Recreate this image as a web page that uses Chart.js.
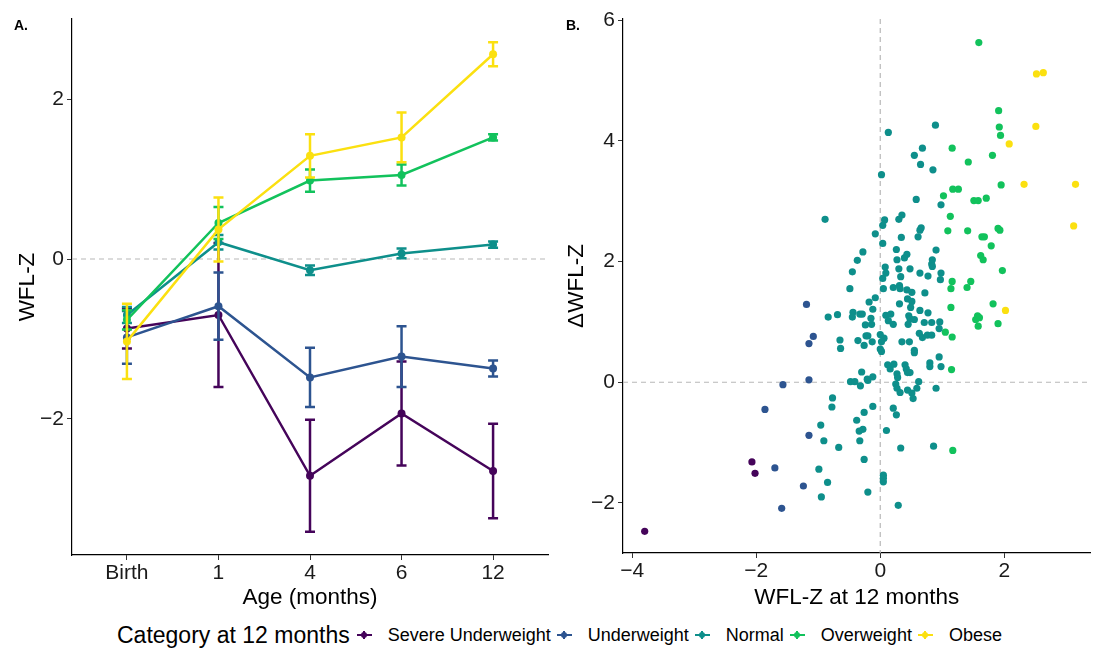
<!DOCTYPE html>
<html>
<head>
<meta charset="utf-8">
<script src="https://cdn.jsdelivr.net/npm/chart.js@4.4.1/dist/chart.umd.min.js"></script>
<style>
  body { margin: 0; background: #fff; font-family: "Liberation Sans", Arial, sans-serif; }
  #wrap { position: relative; width: 1094px; height: 648px; overflow: hidden; }
  #boxB { position: absolute; left: 560px; top: 0; }
  .tag { position: absolute; top: 17px; font-weight: bold; font-size: 14px; }
  #legend { position: absolute; top: 622px; left: 117px; height: 26px; display: flex; align-items: center; white-space: nowrap; color: #000; }
  #legend .ttl { font-size: 23px; margin-right: 7px; }
  #legend .lab { font-size: 18px; margin-right: 6px; }
  .key { position: relative; display: inline-block; width: 15px; height: 14px; margin-right: 16px; }
  .key::before { content: ''; position: absolute; left: 0; right: 0; top: 6px; height: 2px; background: currentColor; }
  .key::after { content: ''; position: absolute; left: 6.5px; top: 3px; bottom: 3px; width: 2px; background: currentColor; }
  .key i { position: absolute; left: 4.5px; top: 4px; width: 6px; height: 6px; border-radius: 50%; background: currentColor; }
</style>
</head>
<body>
<div id="wrap">
  <canvas id="chartA" width="560" height="612"></canvas>
  <div id="boxB"><canvas id="chartB" width="534" height="612"></canvas></div>
  <div class="tag" style="left:14px">A.</div>
  <div class="tag" style="left:566px">B.</div>
  <div id="legend"></div>
</div>
<script>
// categories and colours
const categories = ['Severe Underweight', 'Underweight', 'Normal', 'Overweight', 'Obese'];
const colors = ['#45045a', '#2d5490', '#0e8f8b', '#12c25c', '#fbe010'];

// panel A: mean WFL-Z by age, with error bar half-widths
const ages = ['Birth', '1', '4', '6', '12'];
const meanSevere = [-0.87, -0.70, -2.71, -1.93, -2.65];
const errSevere  = [0.25, 0.90, 0.70, 0.65, 0.59];
const meanUnder  = [-0.98, -0.59, -1.48, -1.22, -1.37];
const errUnder   = [0.33, 0.42, 0.37, 0.38, 0.10];
const meanNormal = [-0.70, 0.21, -0.14, 0.07, 0.18];
const errNormal  = [0.10, 0.09, 0.06, 0.06, 0.04];
const meanOver   = [-0.76, 0.45, 0.98, 1.05, 1.52];
const errOver    = [0.12, 0.20, 0.14, 0.13, 0.04];
const meanObese  = [-1.03, 0.37, 1.29, 1.52, 2.56];
const errObese   = [0.47, 0.40, 0.27, 0.31, 0.15];
const yTicksA = [-2, 0, 2];

// panel B: [WFL-Z at 12 months, change in WFL-Z]
const ptsSevere = [[-3.80, -2.47], [-2.07, -1.32], [-2.02, -1.51]];
const ptsUnder = [[-1.57, -0.04], [-1.15, 0.04], [-1.86, -0.45], [-1.15, -0.88], [-1.70, -1.42],
  [-1.24, -1.72], [-1.59, -2.09], [-1.19, 1.29], [-1.08, 0.76], [-1.15, 0.64]];
const ptsNormal = [
  [-0.77, -0.26], [-0.78, -0.41], [-0.26, -0.50], [-0.96, -0.71], [-0.38, -0.63], [-0.28, -0.78],
  [-0.34, -0.81], [-0.91, -0.97], [-0.33, -0.97], [-0.67, -1.08], [-0.26, -1.28], [-0.99, -1.44],
  [-0.85, -1.66], [-0.95, -1.90], [-0.20, -1.82], [-0.48, 0.01], [-0.41, 0.01], [-0.32, -0.06],
  [-0.20, 0.03],
  [-0.89, 2.70], [-0.08, 2.46], [-0.28, 2.16], [-0.37, 2.02], [-0.45, 1.83], [-0.49, 1.55],
  [-0.18, 1.33], [-0.08, 1.40], [-0.12, 1.21], [-0.84, 1.08], [-0.69, 1.12], [-0.44, 1.16],
  [-0.45, 1.08], [-0.33, 1.13], [-0.29, 1.13], [-0.15, 1.06], [-0.14, 0.96], [-0.24, 0.95],
  [-0.65, 0.70], [-0.64, 0.56], [-0.36, 0.69], [-0.26, 0.61], [-0.23, 0.77], [-0.20, 0.77],
  [-0.13, 0.67], [-0.30, 0.17], [-0.12, 0.09], [-0.21, 0.05],
  [0.89, 4.26], [0.13, 4.14], [0.68, 3.88], [0.55, 3.76], [0.65, 3.61], [0.85, 3.52], [0.02, 3.44],
  [0.58, 3.03], [0.98, 2.94], [0.07, 2.69], [0.04, 2.60], [0.30, 2.70], [0.35, 2.77], [0.66, 2.56],
  [0.64, 2.52], [0.61, 2.41], [0.34, 2.40], [0.04, 2.30], [0.26, 2.20], [0.90, 2.19], [0.43, 2.12],
  [0.39, 2.06], [0.27, 2.03], [0.84, 2.03], [0.83, 1.96], [0.84, 1.92], [0.08, 1.91], [0.09, 1.81],
  [0.30, 1.88], [0.48, 1.88], [0.64, 1.81], [0.77, 1.76], [0.98, 1.81], [0.33, 1.75],
  [0.97, 1.70], [0.04, 1.72], [-0.12, -0.40], [0.05, 1.55], [0.21, 1.57], [0.31, 1.60], [0.32, 1.55],
  [0.43, 1.53], [0.51, 1.49], [0.44, 1.38], [0.51, 1.34], [0.49, 1.24], [0.72, 1.48], [0.31, 1.30],
  [0.09, 1.11], [0.17, 1.13], [0.13, 1.02], [0.21, 0.96], [0.46, 1.10], [0.48, 1.05], [0.55, 1.04],
  [0.45, 0.96], [0.64, 1.19], [0.77, 1.15], [0.71, 0.99], [0.83, 0.99], [0.96, 1.00], [0.95, 0.89],
  [0.63, 0.81], [0.68, 0.74], [0.76, 0.78], [0.83, 0.78], [0.00, 0.79], [0.06, 0.73], [0.02, 0.67],
  [0.35, 0.67], [0.47, 0.67], [0.00, 0.55], [0.02, 0.51], [0.55, 0.53], [0.55, 0.49], [0.95, 0.42],
  [0.80, 0.32], [0.80, 0.26], [0.98, 0.26], [0.12, 0.29], [0.16, 0.22], [0.22, 0.30], [0.40, 0.29],
  [0.42, 0.22], [0.44, 0.16], [0.48, 0.16], [0.27, 0.14], [0.28, 0.08], [0.62, 0.01], [0.59, -0.10],
  [0.25, -0.03], [0.27, -0.10], [0.32, -0.17], [0.44, -0.13], [0.51, -0.18], [0.53, -0.27],
  [0.90, -0.10], [0.21, -0.43], [0.26, -0.54], [0.10, -0.80], [0.33, -1.09], [0.86, -1.06],
  [0.05, -1.54], [0.05, -1.59], [0.05, -1.65], [0.29, -2.04]];
const ptsOver = [
  [1.59, 5.63], [1.91, 4.50], [1.92, 4.23], [1.94, 4.09], [1.16, 3.88], [1.81, 3.76], [1.42, 3.65],
  [1.95, 3.27], [1.02, 3.09], [1.17, 3.20], [1.26, 3.20], [1.51, 3.01], [1.58, 3.01], [1.71, 3.05],
  [1.13, 2.75], [1.09, 2.51], [1.41, 2.51], [1.64, 2.41], [1.68, 2.41], [1.79, 2.26], [1.62, 2.10],
  [1.66, 2.03], [1.90, 2.55], [1.93, 2.52], [1.97, 1.85], [1.16, 1.67], [1.46, 1.67], [1.14, 1.55],
  [1.40, 1.57], [1.82, 1.30], [1.57, 1.10], [1.54, 1.04], [1.60, 1.07], [1.58, 0.93], [1.90, 0.97],
  [1.14, 1.24], [1.05, 0.83], [1.16, 0.75], [1.15, 0.21], [1.17, -1.13]];
const ptsObese = [[2.52, 5.11], [2.63, 5.13], [2.51, 4.24], [2.08, 3.95], [2.32, 3.28],
  [3.15, 3.28], [3.12, 2.59], [2.02, 1.19]];
const xTicksB = [-4, -2, 0, 2];
const yTicksB = [-2, 0, 2, 4, 6];

Chart.defaults.font.family = "'Liberation Sans', Arial, sans-serif";
Chart.defaults.color = '#1a1a1a';

const minus = v => String(v).replace('-', '\u2212');

// vertical error bars drawn from the dataset's "errors" list
const errorBars = {
  id: 'errorBars',
  afterDatasetDraw(chart, args) {
    const ds = chart.data.datasets[args.index];
    if (!ds.errors) return;
    const ys = chart.scales.y, ctx = chart.ctx;
    ctx.save();
    ctx.strokeStyle = ds.borderColor;
    ctx.lineWidth = 2.5;
    args.meta.data.forEach((pt, j) => {
      const v = ds.data[j].y, e = ds.errors[j];
      const top = ys.getPixelForValue(v + e), bot = ys.getPixelForValue(v - e);
      ctx.beginPath();
      ctx.moveTo(pt.x, top); ctx.lineTo(pt.x, bot);
      ctx.moveTo(pt.x - 5, top); ctx.lineTo(pt.x + 5, top);
      ctx.moveTo(pt.x - 5, bot); ctx.lineTo(pt.x + 5, bot);
      ctx.stroke();
    });
    ctx.restore();
  }
};

// dashed reference lines at zero
const refLines = {
  id: 'refLines',
  beforeDatasetsDraw(chart, args, opts) {
    const { ctx, chartArea: a, scales } = chart;
    ctx.save();
    ctx.strokeStyle = '#b8b8b8';
    ctx.lineWidth = 1.2;
    ctx.setLineDash([5, 4]);
    (opts.y || []).forEach(v => {
      const py = scales.y.getPixelForValue(v);
      ctx.beginPath(); ctx.moveTo(a.left, py); ctx.lineTo(a.right, py); ctx.stroke();
    });
    (opts.x || []).forEach(v => {
      const px = scales.x.getPixelForValue(v);
      ctx.beginPath(); ctx.moveTo(px, a.top); ctx.lineTo(px, a.bottom); ctx.stroke();
    });
    ctx.restore();
  }
};

function axisStyle(width, height) {
  return {
    grid: { display: true, drawOnChartArea: false, drawTicks: true, tickLength: 5, color: '#333', lineWidth: 1 },
    border: { display: true, color: '#000', width: 1.2 },
    afterFit: s => { if (width) s.width = width; if (height) s.height = height; }
  };
}

// Panel A
const meansA = [meanSevere, meanUnder, meanNormal, meanOver, meanObese];
const errsA = [errSevere, errUnder, errNormal, errOver, errObese];

new Chart(document.getElementById('chartA').getContext('2d'), {
  type: 'line',
  data: {
    datasets: categories.map((name, i) => ({
      label: name,
      data: meansA[i].map((m, j) => ({ x: j, y: m })),
      errors: errsA[i],
      borderColor: colors[i],
      backgroundColor: colors[i],
      borderWidth: 2.5,
      pointRadius: 4,
      pointHoverRadius: 4,
      pointBorderWidth: 0,
      order: categories.length - i
    }))
  },
  plugins: [refLines, errorBars],
  options: {
    responsive: false,
    animation: false,
    layout: { padding: { top: 19, right: 12 } },
    plugins: { legend: { display: false }, tooltip: { enabled: false }, refLines: { y: [0] } },
    scales: {
      x: {
        type: 'linear', min: -0.6, max: 4.6,
        ...axisStyle(0, 57),
        afterBuildTicks: s => { s.ticks = ages.map((_, i) => ({ value: i })); },
        ticks: { callback: v => ages[v], font: { size: 21 }, padding: 1, maxRotation: 0 },
        title: { display: true, text: 'Age (months)', font: { size: 22.5 }, color: '#000', padding: { top: 0, bottom: 1 } }
      },
      y: {
        type: 'linear', min: -3.7, max: 3.0,
        ...axisStyle(72, 0),
        afterBuildTicks: s => { s.ticks = yTicksA.map(v => ({ value: v })); },
        ticks: { callback: v => minus(v), font: { size: 21 }, padding: 3 },
        title: { display: true, text: 'WFL-Z', font: { size: 22.5 }, color: '#000', padding: { top: 14, bottom: 0 } }
      }
    }
  }
});

// Panel B
const ptsB = [ptsSevere, ptsUnder, ptsNormal, ptsOver, ptsObese];

new Chart(document.getElementById('chartB').getContext('2d'), {
  type: 'scatter',
  data: {
    datasets: categories.map((name, i) => ({
      label: name,
      data: ptsB[i].map(p => ({ x: p[0], y: p[1] })),
      backgroundColor: colors[i],
      borderWidth: 0,
      pointRadius: 3.6,
      pointHoverRadius: 3.6
    }))
  },
  plugins: [refLines],
  options: {
    responsive: false,
    animation: false,
    layout: { padding: { top: 19, right: 0 } },
    plugins: { legend: { display: false }, tooltip: { enabled: false }, refLines: { x: [0], y: [0] } },
    scales: {
      x: {
        type: 'linear', min: -4.15, max: 3.39,
        ...axisStyle(0, 59),
        afterBuildTicks: s => { s.ticks = xTicksB.map(v => ({ value: v })); },
        ticks: { callback: v => minus(v), font: { size: 21 }, padding: 1, maxRotation: 0 },
        title: { display: true, text: 'WFL-Z at 12 months', font: { size: 22.5 }, color: '#000', padding: { top: 0, bottom: 1 } }
      },
      y: {
        type: 'linear', min: -2.83, max: 6.02,
        ...axisStyle(63, 0),
        afterBuildTicks: s => { s.ticks = yTicksB.map(v => ({ value: v })); },
        ticks: { callback: v => minus(v), font: { size: 21 }, padding: 3 },
        title: { display: true, text: '\u0394WFL-Z', font: { size: 22.5 }, color: '#000', padding: { top: 3, bottom: 0 } }
      }
    }
  }
});

// legend
const legend = document.getElementById('legend');
legend.innerHTML = '<span class="ttl">Category at 12 months</span>' +
  categories.map((c, i) => '<span class="key" style="color:' + colors[i] + '"><i></i></span><span class="lab">' + c + '</span>').join('');
</script>
</body>
</html>
